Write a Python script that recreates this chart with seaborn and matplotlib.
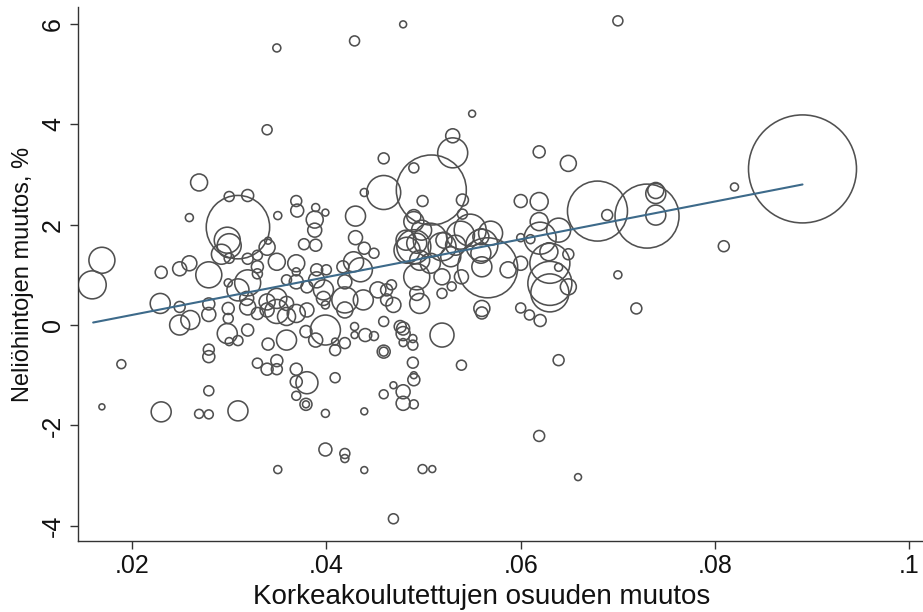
import matplotlib
matplotlib.use("Agg")
import matplotlib.pyplot as plt
import seaborn as sns
import numpy as np
import pandas as pd

# ---- data ----
share_change = [
    .0159, .0169, .0189, .0169, .0230, .0230, .0229, .0249, .0249, .0249,
    .0260, .0259, .0259, .0269, .0269,
    .0279, .0279, .0279, .0279, .0279, .0279, .0279, .0292, .0298, .0300,
    .0300, .0300, .0309, .0299, .0299, .0299, .0298, .0300, .0309, .0309,
    .0319, .0319, .0319, .0319, .0318, .0309, .0319,
    .0329, .0329, .0329, .0329, .0329, .0339, .0339, .0339, .0340, .0339,
    .0340, .0339, .0349, .0350, .0349, .0349, .0349, .0349, .0349, .0350,
    .0359, .0359, .0359, .0359, .0369, .0369, .0370, .0369, .0369, .0369,
    .0369, .0369, .0369,
    .0377, .0380, .0380, .0379, .0380, .0379, .0379, .0389, .0388, .0388,
    .0389, .0390, .0390, .0389, .0399, .0400, .0397, .0397, .0399, .0399,
    .0399, .0399,
    .0409, .0409, .0409, .0419, .0419, .0419, .0419, .0419, .0419, .0417,
    .0429, .0430, .0430, .0428, .0429, .0429, .0435, .0438, .0439, .0439,
    .0440, .0439, .0439, .0449, .0449, .0453,
    .0459, .0459, .0459, .0459, .0459, .0459, .0462, .0462, .0467, .0469,
    .0469, .0469, .0476, .0479, .0479, .0479, .0479, .0479, .0479, .0482,
    .0483, .0489, .0489, .0489, .0490, .0490, .0490, .0490, .0490, .0490,
    .0490, .0493, .0493, .0493, .0496, .0496, .0499, .0498, .0499,
    .0508, .0507, .0507, .0509, .0519, .0521, .0519, .0519, .0519, .0530,
    .0530, .0529, .0528, .0533, .0538, .0540, .0540, .0539, .0539, .0550,
    .0548,
    .0560, .0559, .0559, .0560, .0560, .0560, .0569, .0566, .0587, .0600,
    .0600, .0600, .0600, .0610, .0609, .0619, .0619, .0619, .0620, .0620,
    .0619, .0629, .0630, .0630, .0630, .0639, .0639, .0639, .0649, .0649,
    .0649, .0659, .0679, .0689, .0700, .0700, .0719, .0730, .0739, .0739,
    .0739, .0809, .0820, .0890,
]
price_change = [
    0.80, 1.29, -0.78, -1.63, -1.73, 1.05, 0.43, 1.12, 0.36, 0.00,
    0.10, 1.23, 2.14, 2.84, -1.77,
    1.00, 0.42, 0.21, -0.49, -0.63, -1.31, -1.78, 1.41, 1.69, 1.58,
    1.33, 2.56, 1.95, 0.84, 0.33, 0.13, -0.17, -0.33, -0.31, 0.70,
    0.84, -0.10, 2.58, 0.36, 0.53, -1.71, 1.32,
    1.39, 1.16, 1.02, 0.23, -0.76, 0.46, 0.30, 1.55, 1.68, 3.89,
    -0.38, -0.88, 1.26, 2.18, 5.52, 0.53, 0.27, -0.71, -0.88, -2.88,
    0.90, 0.43, 0.17, -0.30, 1.23, 2.47, 2.28, 1.06, 0.86, 0.23,
    -0.88, -1.13, -1.41,
    1.61, 0.76, 0.30, -0.13, -1.15, -1.58, -1.58, 2.34, 2.10, 1.89,
    1.59, 1.10, 0.90, -0.30, 2.24, 1.10, 0.70, 0.53, 0.40, -0.10,
    -1.76, -2.48,
    -0.50, -0.33, -1.05, 0.86, 0.50, 0.30, -0.36, -2.56, -2.66, 1.16,
    5.66, 2.17, 1.74, 1.26, -0.03, -0.20, 1.10, 0.50, 2.64, 1.53,
    -0.20, -1.72, -2.89, 1.43, -0.22, 0.70,
    3.32, 2.64, 0.07, -0.53, -0.53, -1.38, 0.70, 0.50, 0.80, 0.40,
    -1.20, -3.86, -0.03, 5.99, -0.07, -0.17, -0.35, -1.33, -1.56, 1.69,
    1.49, -0.27, -0.40, -0.75, -1.00, -1.09, -1.58, 3.13, 2.16, 2.06,
    1.56, 1.63, 0.96, 0.63, 1.29, 0.43, 2.47, 1.89, -2.87,
    2.69, 1.69, 1.23, -2.87, 1.56, 1.69, 0.96, 0.63, -0.20, 3.77,
    3.43, 0.77, 1.36, 1.59, 1.79, 2.49, 2.21, 0.96, -0.80, 4.21,
    1.89,
    1.59, 1.76, 1.43, 1.16, 0.33, 0.24, 1.83, 1.14, 1.10, 2.47,
    1.74, 1.23, 0.34, 1.71, 0.20, 3.45, 2.46, 2.06, 1.73, 0.09,
    -2.21, 1.46, 1.23, 0.83, 0.64, 1.89, 1.15, -0.70, 3.22, 1.41,
    0.76, -3.03, 2.27, 2.19, 6.06, 1.00, 0.33, 2.17, 2.68, 2.62,
    2.19, 1.57, 2.75, 3.11,
]
weight = [
    196, 169, 20, 9, 100, 36, 100, 49, 30, 100,
    90, 56, 16, 72, 20,
    169, 36, 49, 30, 36, 25, 20, 100, 169, 144,
    25, 25, 1005, 16, 36, 25, 100, 16, 25, 121,
    169, 36, 36, 64, 49, 100, 30,
    25, 36, 25, 36, 25, 64, 49, 64, 12, 25,
    36, 36, 72, 16, 16, 100, 144, 36, 30, 16,
    25, 49, 81, 100, 72, 30, 42, 16, 49, 81,
    36, 36, 20,
    30, 36, 49, 36, 121, 36, 12, 16, 72, 49,
    36, 36, 64, 49, 12, 25, 100, 49, 16, 225,
    16, 42,
    30, 12, 25, 49, 169, 64, 30, 25, 16, 36,
    25, 100, 49, 100, 16, 12, 144, 100, 16, 36,
    42, 12, 12, 25, 20, 64,
    30, 289, 25, 42, 20, 20, 36, 36, 25, 56,
    12, 25, 36, 12, 42, 49, 16, 49, 49, 100,
    169, 16, 25, 30, 12, 36, 20, 25, 49, 100,
    289, 100, 169, 49, 100, 100, 30, 100, 20,
    1225, 289, 100, 12, 196, 64, 64, 25, 144, 49,
    225, 20, 100, 100, 196, 36, 25, 49, 25, 12,
    256,
    256, 64, 100, 100, 64, 36, 144, 900, 64, 42,
    16, 49, 25, 20, 25, 36, 81, 81, 256, 36,
    30, 81, 400, 484, 361, 144, 16, 30, 64, 30,
    64, 12, 900, 30, 25, 16, 30, 1024, 64, 100,
    100, 30, 16, 2916,
]
fit_x = [0.016, 0.089]
fit_y = [0.05, 2.80]

xticks = [0.02, 0.04, 0.06, 0.08, 0.10]
xtick_labels = [".02", ".04", ".06", ".08", ".1"]
yticks = [-4, -2, 0, 2, 4, 6]
ytick_labels = ["-4", "-2", "0", "2", "4", "6"]

df = pd.DataFrame({"x": share_change, "y": price_change, "w": weight})

# ---- figure ----
sns.set_style("white")
plt.rcParams["font.family"] = ["Liberation Sans", "DejaVu Sans"]

fig = plt.figure(figsize=(9.23, 6.12), dpi=100)
ax = fig.add_axes([0.0842, 0.116, 0.916, 0.8725])

wmin, wmax = min(weight), max(weight)
k = (2 * 0.72) ** 2  # px^2 -> pt^2
sns.scatterplot(data=df, x="x", y="y", size="w",
                sizes=(k * wmin, k * wmax), size_norm=(wmin, wmax),
                color="#505050", facecolor="none", edgecolor="#505050",
                linewidth=1.15, marker="o", legend=False, ax=ax, zorder=2)
sns.lineplot(x=fit_x, y=fit_y, color="#3d6a8a", linewidth=1.5, ax=ax,
             zorder=3)

ax.set_xlim(0.01441, 0.10142)
ax.set_ylim(-4.303, 6.335)
ax.set_xticks(xticks)
ax.set_xticklabels(xtick_labels)
ax.set_yticks(yticks)
ax.set_yticklabels(ytick_labels, rotation=90, va="center")

for s in ["top", "right"]:
    ax.spines[s].set_visible(False)
for s in ["left", "bottom"]:
    ax.spines[s].set_color("#333333")
    ax.spines[s].set_linewidth(1.0)

ax.tick_params(axis="both", direction="out", length=6, width=1.0,
               color="#333333", labelsize=18, labelcolor="#111111",
               left=True, bottom=True)
ax.tick_params(axis="y", pad=3)
ax.tick_params(axis="x", pad=3)

ax.set_xlabel("Korkeakoulutettujen osuuden muutos", fontsize=20,
              color="#111111")
ax.xaxis.set_label_coords(0.478, -0.08)
ax.set_ylabel("Neliöhintojen muutos, %", fontsize=17, color="#111111",
              labelpad=5)
ax.grid(False)

fig.savefig("out.png", dpi=100)
